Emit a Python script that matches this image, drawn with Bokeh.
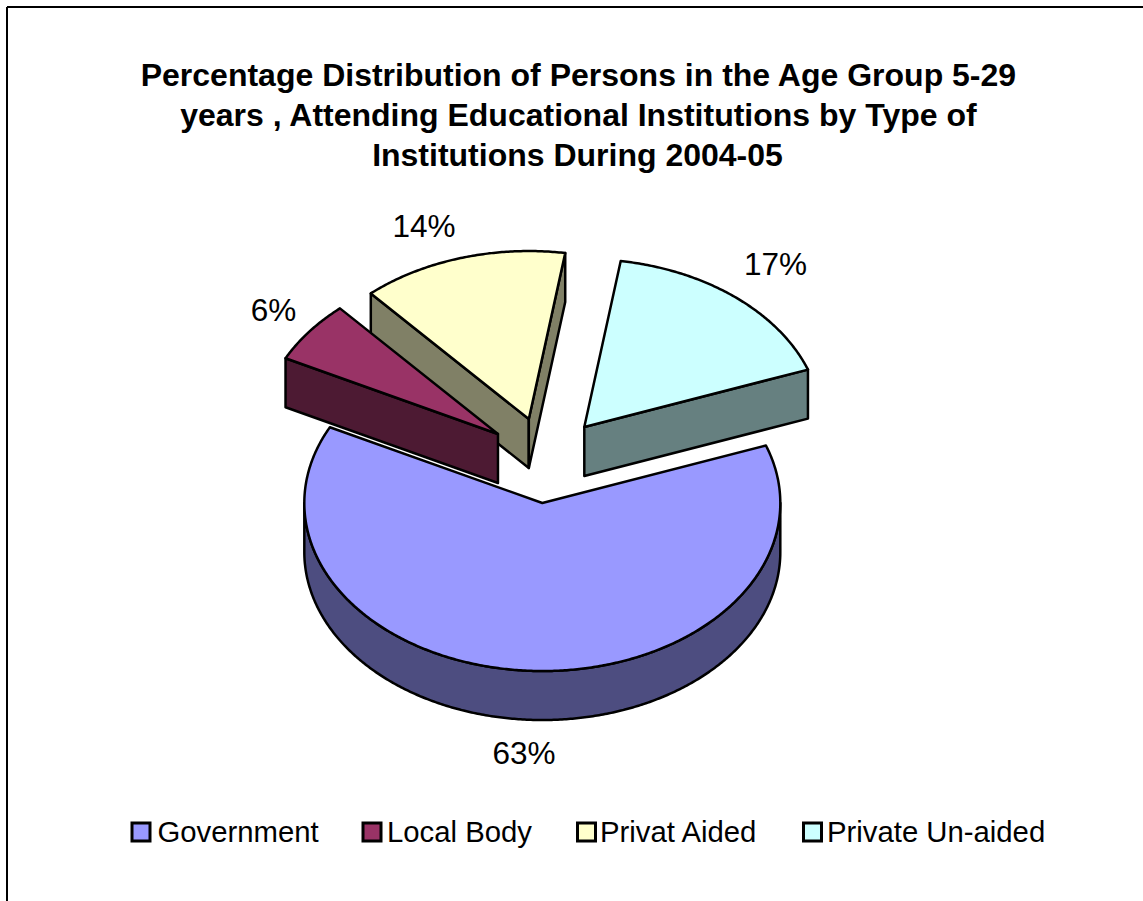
import numpy as np
from bokeh.plotting import figure
from bokeh.models import Range1d
from bokeh.core.properties import value
from bokeh.embed import file_html
from bokeh.resources import INLINE

title_lines = ["Percentage Distribution of Persons in the Age Group 5-29",
               "years , Attending Educational Institutions by Type of",
               "Institutions During 2004-05"]
categories = ["Government", "Local Body", "Privat Aided", "Private Un-aided"]
shares = [63, 6, 14, 17]
top_colors = ["#9999FF", "#993366", "#FFFFCC", "#CCFFFF"]
side_colors = ["#4D4D80", "#4D1A33", "#808066", "#668080"]

W, H = 1143, 901
FONT = value("Liberation Sans")
first_angle = 70.0
cx, cy = 545.4, 459.7
rx, ry = 238.0, 168.0
ex, ey = 60.5, 42.9
depth = 49.0
LW = 2.5

p = figure(width=W, height=H, output_backend="svg", toolbar_location=None,
           x_range=Range1d(0, W), y_range=Range1d(H, 0), min_border=0,
           outline_line_color=None, background_fill_color="white", border_fill_color="white")
p.axis.visible = False
p.grid.visible = False

p.line([6.5, W + 5], [6.5, 6.5], line_color="black", line_width=2)
p.line([6.5, 6.5], [6.5, H + 5], line_color="black", line_width=2)

def arc_pts(a0, a1, ax, ay, dy=0.0):
    t = np.radians(np.linspace(a0, a1, max(int(abs(a1 - a0)) * 2, 2)))
    return ax + rx * np.sin(t), ay - ry * np.cos(t) + dy

def outline(xs, ys, fill, join="round"):
    p.patch(xs, ys, fill_color=fill, line_color="black", line_width=LW, line_join=join)

def wall(ax, ay, ang, fill):
    t = np.radians(ang)
    px, py = ax + rx * np.sin(t), ay - ry * np.cos(t)
    outline([ax, px, px, ax], [ay, py, py + depth, ay + depth], fill)

bounds = []
a = first_angle
for s in shares:
    bounds.append((a, a + s * 3.6))
    a += s * 3.6

apexes = []
for a0, a1 in bounds:
    m = np.radians((a0 + a1) / 2)
    apexes.append((cx + ex * np.sin(m), cy - ey * np.cos(m)))

for i in [0, 2, 1, 3]:
    a0, a1 = bounds[i]
    ax, ay = apexes[i]
    s0, s1 = np.sin(np.radians(a0)), np.sin(np.radians(a1))
    if s0 < 0:
        wall(ax, ay, a0, side_colors[i])
    if s1 > 0:
        wall(ax, ay, a1, side_colors[i])
    r0, r1 = max(a0, 90), min(a1, 270)
    if r1 > r0:
        xt, yt = arc_pts(r0, r1, ax, ay)
        xb, yb = arc_pts(r1, r0, ax, ay, depth)
        outline(np.r_[xt, xb], np.r_[yt, yb], side_colors[i])
    xs, ys = arc_pts(a0, a1, ax, ay)
    outline(np.r_[ax, xs], np.r_[ay, ys], top_colors[i])

# title
for line, x, y in zip(title_lines, [578.5, 578.5, 577], [74, 114, 154]):
    p.text([x], [y], text=[line], text_font=FONT, text_font_style="bold",
           text_font_size="32px", text_align="center", text_baseline="middle", text_color="black")

# percentage labels
lab_x = [523.5, 273, 423.5, 775]
lab_y = [752, 309, 225, 263]
for x, y, s in zip(lab_x, lab_y, shares):
    p.text([x], [y], text=[f"{s}%"], text_font=FONT, text_font_size="31.5px",
           text_align="center", text_baseline="middle", text_color="black")

# legend
sw_x = [140.5, 371.5, 586, 812]
txt_x = [157, 386.5, 599.5, 826.5]
for x, tx, c, name in zip(sw_x, txt_x, top_colors, categories):
    p.rect([x], [831.5], width=18, height=18, fill_color=c, line_color="black",
           line_width=3, line_join="miter")
    p.text([tx], [830.5], text=[name], text_font=FONT, text_font_size="29.3px",
           text_align="left", text_baseline="middle", text_color="black")

open("out.html", "w").write(file_html(p, INLINE))
